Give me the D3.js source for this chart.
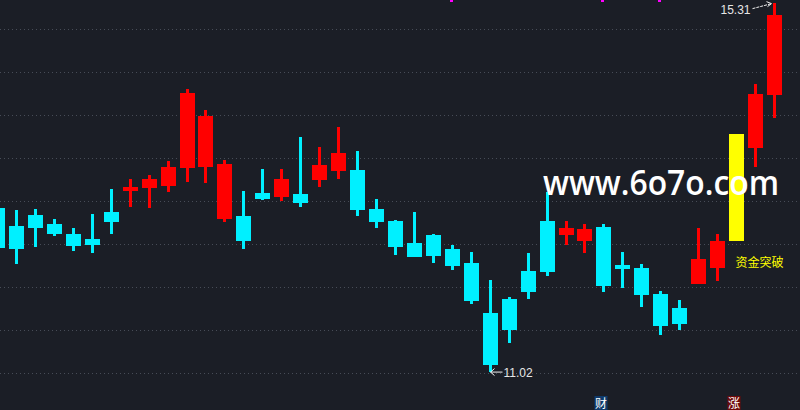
<!DOCTYPE html>
<html><head><meta charset="utf-8">
<script src="https://cdn.jsdelivr.net/npm/d3@7"></script>
<style>html,body{margin:0;padding:0;background:#1b1e26;overflow:hidden}</style>
</head><body><svg id="c" width="800" height="410"></svg>
<script>
// ---- data ----
const opens  = [12.92,12.71,12.84,12.74,12.62,12.56,12.88,13.12,13.16,13.18,13.39,13.40,12.79,12.83,13.10,13.05,13.09,13.25,13.35,13.36,12.91,12.77,12.52,12.61,12.45,12.28,11.70,11.86,12.19,12.77,12.61,12.54,12.70,12.26,12.22,11.92,11.76,12.04,12.22,12.54,13.62,14.24];
const highs  = [12.96,12.90,12.91,12.79,12.69,12.85,13.14,13.26,13.31,13.47,14.31,14.06,13.48,13.12,13.38,13.38,13.75,13.63,13.86,13.59,13.03,12.78,12.88,12.62,12.49,12.41,12.09,11.89,12.40,13.11,12.77,12.74,12.74,12.41,12.27,11.96,11.85,12.69,12.62,13.78,14.36,15.31];
const lows   = [12.42,12.27,12.47,12.60,12.42,12.40,12.62,12.93,12.92,13.11,13.22,13.21,12.76,12.45,13.02,13.00,12.93,13.17,13.26,12.83,12.69,12.38,12.35,12.28,12.20,11.81,11.02,11.35,11.86,12.13,12.49,12.40,11.95,11.99,11.77,11.45,11.50,12.04,12.07,12.54,13.40,13.97];
const closes = [12.46,12.45,12.69,12.62,12.48,12.49,12.76,13.17,13.26,13.40,14.26,13.99,13.43,12.54,13.03,13.26,12.98,13.42,13.56,12.90,12.76,12.47,12.35,12.36,12.25,11.84,11.10,11.50,11.95,12.18,12.69,12.68,12.02,12.21,11.91,11.55,11.57,12.33,12.54,13.78,14.25,15.17];
const gridLevels = [11,11.5,12,12.5,13,13.5,14,14.5,15];
const signalIndex = 39;            // yellow "资金突破" bar
const signalText = "资金突破";
const magentaMarks = [24, 32, 35];
const badges = [{i:32, t:"财", bg:"#0f3a6b"}, {i:39, t:"涨", bg:"#6e0b0b"}];
const watermark = "www.6o7o.com";

// ---- scales ----
const W = 800, H = 410;
const svg = d3.select("#c");
const idx = d3.range(opens.length);
const x = d3.scaleBand().domain(idx).range([-11.925, 783.975]).paddingInner(0.2084).paddingOuter(0.1042);
const y = d3.scaleLinear().domain([11, 15]).range([373.3, 29.3]);
const bw = Math.round(x.bandwidth());
const cx = i => Math.round(x(i)) + bw / 2;

svg.append("rect").attr("width", W).attr("height", H).attr("fill", "#1b1e26");

// grid
svg.append("g").selectAll("line").data(gridLevels).join("line")
  .attr("x1", 0).attr("x2", W)
  .attr("y1", d => Math.round(y(d)) + 0.5).attr("y2", d => Math.round(y(d)) + 0.5)
  .attr("stroke", "#474c57").attr("stroke-width", 1).attr("stroke-dasharray", "1,3");

const RED = "#ff0000", CYAN = "#00f0ff", YEL = "#ffff00";
const colorOf = i => i === signalIndex ? YEL : (closes[i] >= opens[i] ? RED : CYAN);

const g = svg.append("g");
// wicks
g.selectAll("rect.w").data(idx.filter(i => i !== signalIndex)).join("rect").attr("class", "w")
  .attr("x", i => Math.round(x(i)) + 6).attr("width", 3)
  .attr("y", i => Math.round(y(highs[i])))
  .attr("height", i => Math.max(1, Math.round(y(lows[i])) - Math.round(y(highs[i]))))
  .attr("fill", colorOf);
// bodies
g.selectAll("rect.b").data(idx).join("rect").attr("class", "b")
  .attr("x", i => Math.round(x(i))).attr("width", bw)
  .attr("y", i => Math.round(y(Math.max(opens[i], closes[i]))))
  .attr("height", i => Math.max(2, Math.round(y(Math.min(opens[i], closes[i]))) - Math.round(y(Math.max(opens[i], closes[i])))))
  .attr("fill", colorOf);

// magenta marks at top
svg.append("g").selectAll("rect").data(magentaMarks).join("rect")
  .attr("x", i => cx(i) - 2.5).attr("y", 0).attr("width", 3).attr("height", 2).attr("fill", "#ff00ff");

// watermark
svg.append("text").attr("x", 543).attr("y", 195).text(watermark)
  .attr("font-family", "Open Sans, DejaVu Sans, sans-serif").attr("font-weight", 600)
  .attr("font-size", 34).attr("fill", "#ffffff")
  .attr("textLength", 236).attr("lengthAdjust", "spacingAndGlyphs");

// signal text
svg.append("text").attr("x", cx(signalIndex) + 23).attr("y", 267).attr("text-anchor", "middle")
  .text(signalText).attr("font-family", "Noto Sans CJK SC, sans-serif").attr("font-size", 12).attr("fill", YEL);

// max / min labels
const iMax = d3.maxIndex(highs), iMin = d3.minIndex(lows);
const yMax = y(highs[iMax]), yMin = y(lows[iMin]);
svg.append("text").attr("x", cx(iMax) - 24).attr("y", yMax + 11).attr("text-anchor", "end")
  .text(d3.format(".2f")(highs[iMax])).attr("font-family", "Liberation Sans, Arial, sans-serif")
  .attr("font-size", 12).attr("fill", "#e6e6e6");
const ax1 = cx(iMax) - 22, ay1 = yMax + 6, ax2 = cx(iMax) - 3, ay2 = yMax + 1;
svg.append("line").attr("x1", ax1).attr("y1", ay1).attr("x2", ax2).attr("y2", ay2)
  .attr("stroke", "#f0f0f0").attr("stroke-width", 1).attr("stroke-dasharray", "3,1");
svg.append("path").attr("d", `M${ax2-5},${ay2-2}L${ax2},${ay2}L${ax2-4},${ay2+3}`)
  .attr("stroke", "#f0f0f0").attr("fill", "none").attr("stroke-width", 1);

svg.append("line").attr("x1", cx(iMin)).attr("x2", cx(iMin) + 12).attr("y1", yMin + 0.5).attr("y2", yMin + 0.5)
  .attr("stroke", "#f0f0f0").attr("stroke-width", 1);
svg.append("path").attr("d", `M${cx(iMin)+4},${yMin-3}L${cx(iMin)},${yMin+0.5}L${cx(iMin)+4},${yMin+4}`)
  .attr("stroke", "#f0f0f0").attr("fill", "none").attr("stroke-width", 1);
svg.append("text").attr("x", cx(iMin) + 13).attr("y", yMin + 5)
  .text(d3.format(".2f")(lows[iMin])).attr("font-family", "Liberation Sans, Arial, sans-serif")
  .attr("font-size", 12).attr("fill", "#e6e6e6");

// bottom badges
const bg = svg.append("g").selectAll("g").data(badges).join("g")
  .attr("transform", d => `translate(${cx(d.i) - 9},396)`);
bg.append("rect").attr("width", 13).attr("height", 14).attr("fill", d => d.bg);
bg.append("text").attr("x", 6.5).attr("y", 12).attr("text-anchor", "middle").text(d => d.t)
  .attr("font-family", "Noto Sans CJK SC, sans-serif").attr("font-size", 12).attr("fill", "#ffffff");
</script></body></html>
